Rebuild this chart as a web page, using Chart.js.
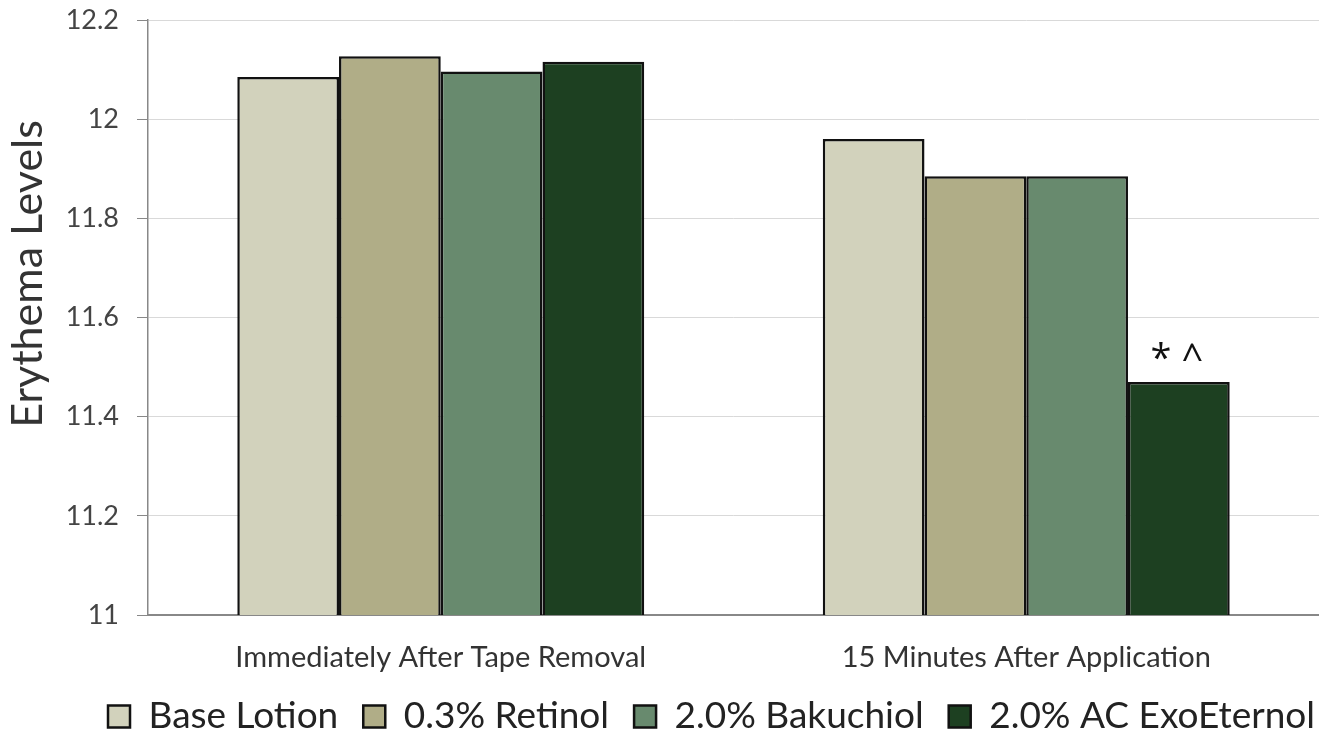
<!DOCTYPE html>
<html>
<head>
<meta charset="utf-8">
<script src="https://cdn.jsdelivr.net/npm/chart.js@4"></script>
<style>
  html, body { margin: 0; padding: 0; background: #fff; }
  #wrap { width: 1319px; height: 734px; }
</style>
</head>
<body>
<div id="wrap"><canvas id="erythemaChart"></canvas></div>
<script>
// Erythema levels by treatment

const timepoints = ['Immediately After Tape Removal', '15 Minutes After Application'];
const treatments = ['Base Lotion', '0.3% Retinol', '2.0% Bakuchiol', '2.0% AC ExoEternol'];
const baseLotion = [12.085, 11.96];
const retinol = [12.127, 11.885];
const bakuchiol = [12.096, 11.885];
const exoEternol = [12.116, 11.47];
const exoMarks = ['', '* ^'];
const yTicks = [11, 11.2, 11.4, 11.6, 11.8, 12, 12.2];
const yTitle = 'Erythema Levels';

const fills = ['#d2d2bc', '#b0ad87', '#688a6e', '#1d4021'];
const FONT = 'Lato, "Open Sans", sans-serif';

// significance marks, y title, and legend placement tweaks
const extrasPlugin = {
  id: 'extras',
  afterInit(chart) {
    const lg = chart.legend;
    const origFit = lg.fit.bind(lg);
    lg.fit = function () {
      origFit();
      this.height = 61;
    };
  },
  afterLayout(chart) {
    chart.legend.left += 52;
    chart.legend.right += 52;
  },
  afterDatasetsDraw(chart) {
    const meta = chart.getDatasetMeta(3);
    const ctx = chart.ctx;
    ctx.save();
    ctx.font = '38px "Open Sans", sans-serif';
    ctx.fillStyle = '#111';
    ctx.textAlign = 'center';
    ctx.textBaseline = 'alphabetic';
    meta.data.forEach((bar, i) => {
      if (exoMarks[i]) ctx.fillText(exoMarks[i], bar.x - 2, bar.y - 11);
    });
    ctx.restore();
  },
  afterDraw(chart) {
    const ctx = chart.ctx;
    ctx.save();
    ctx.translate(28, 274);
    ctx.rotate(-Math.PI / 2);
    ctx.font = '43px ' + FONT;
    ctx.fillStyle = '#333';
    ctx.textAlign = 'center';
    ctx.textBaseline = 'middle';
    ctx.fillText(yTitle, 0, 0);
    ctx.restore();
  }
};

const ctx = document.getElementById('erythemaChart').getContext('2d');
new Chart(ctx, {
  type: 'bar',
  data: {
    labels: timepoints,
    datasets: [baseLotion, retinol, bakuchiol, exoEternol].map((d, i) => ({
      label: treatments[i],
      data: d,
      backgroundColor: fills[i],
      borderColor: '#111',
      borderWidth: 2.5,
      borderSkipped: false,
      barPercentage: 1,
      categoryPercentage: 0.695
    }))
  },
  options: {
    responsive: true,
    maintainAspectRatio: false,
    animation: false,
    layout: { padding: { top: 20, right: 0, left: 0, bottom: 0 } },
    plugins: {
      legend: {
        position: 'bottom',
        labels: {
          color: '#222',
          font: { family: FONT, size: 37 },
          boxWidth: 22,
          boxHeight: 22,
          padding: 25
        }
      },
      tooltip: { enabled: false }
    },
    scales: {
      y: {
        min: 11,
        max: 12.2,
        afterBuildTicks: (scale) => { scale.ticks = yTicks.map(v => ({ value: v })); },
        afterFit: (scale) => {
          scale.width = 148;
          scale.paddingTop = 0;
          scale.paddingBottom = 0;
        },
        ticks: {
          color: '#444',
          font: { family: FONT, size: 27 },
          padding: 18,
          callback: (v) => String(Math.round(v * 10) / 10)
        },
        grid: { color: '#d9d9d9', tickColor: '#888', tickLength: 11, lineWidth: 1 },
        border: { color: '#888', width: 1.5 }
      },
      x: {
        afterFit: (scale) => { scale.height = 58; },
        ticks: {
          color: '#333',
          font: { family: FONT, size: 29 },
          padding: 17
        },
        grid: { display: false },
        border: { color: '#888', width: 2 }
      }
    }
  },
  plugins: [extrasPlugin]
});
</script>
</body>
</html>
